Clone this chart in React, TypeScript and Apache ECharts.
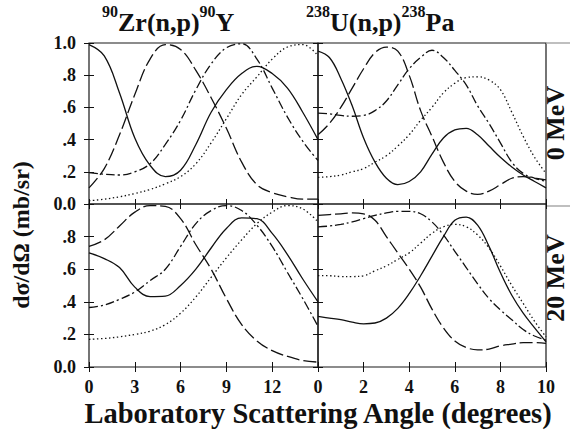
import React, { useEffect, useRef } from "react";
import * as echarts from "echarts";

// Scattering angles (degrees) at which the angular distributions are sampled
const zrAngles = [0, 1, 2, 3, 4, 5, 6, 7, 8, 9, 10, 11, 12, 13, 14, 15];
const uAngles = [0, 0.5, 1, 1.5, 2, 2.5, 3, 3.5, 4, 4.5, 5, 5.5, 6, 6.5, 7, 7.5, 8, 8.5, 9, 9.5, 10];

// 90Zr(n,p)90Y, 0 MeV
const zr0Solid = [0.99, 0.92, 0.69, 0.41, 0.24, 0.17, 0.21, 0.37, 0.57, 0.71, 0.81, 0.855, 0.81, 0.72, 0.57, 0.4];
const zr0LongDash = [0.1, 0.22, 0.43, 0.68, 0.9, 0.99, 0.96, 0.83, 0.66, 0.47, 0.26, 0.12, 0.07, 0.045, 0.03, 0.03];
const zr0DashDot = [0.195, 0.185, 0.18, 0.2, 0.25, 0.37, 0.52, 0.71, 0.87, 0.97, 0.995, 0.9, 0.72, 0.54, 0.39, 0.27];
const zr0Dotted = [0.02, 0.03, 0.045, 0.065, 0.09, 0.125, 0.17, 0.25, 0.38, 0.53, 0.68, 0.79, 0.9, 0.975, 0.99, 0.92];

// 238U(n,p)238Pa, 0 MeV
const u0Solid = [0.95, 0.91, 0.78, 0.61, 0.41, 0.26, 0.16, 0.12, 0.14, 0.2, 0.31, 0.41, 0.46, 0.47, 0.43, 0.36, 0.29, 0.23, 0.18, 0.14, 0.1];
const u0LongDash = [0.43, 0.5, 0.6, 0.72, 0.84, 0.94, 0.975, 0.95, 0.8, 0.58, 0.42, 0.26, 0.14, 0.08, 0.06, 0.08, 0.12, 0.16, 0.17, 0.16, 0.15];
const u0DashDot = [0.565, 0.56, 0.55, 0.545, 0.55, 0.58, 0.64, 0.74, 0.84, 0.91, 0.955, 0.91, 0.83, 0.74, 0.61, 0.5, 0.38, 0.26, 0.19, 0.16, 0.14];
const u0Dotted = [0.165, 0.17, 0.18, 0.2, 0.22, 0.26, 0.3, 0.36, 0.43, 0.52, 0.6, 0.69, 0.75, 0.785, 0.79, 0.77, 0.71, 0.57, 0.42, 0.29, 0.19];

// 90Zr(n,p)90Y, 20 MeV
const zr20Solid = [0.7, 0.665, 0.61, 0.49, 0.432, 0.435, 0.5, 0.6, 0.73, 0.85, 0.915, 0.91, 0.82, 0.69, 0.54, 0.4];
const zr20LongDash = [0.74, 0.78, 0.865, 0.95, 0.99, 0.985, 0.91, 0.75, 0.6, 0.42, 0.26, 0.16, 0.1, 0.065, 0.04, 0.03];
const zr20DashDot = [0.365, 0.38, 0.415, 0.46, 0.53, 0.6, 0.74, 0.88, 0.96, 0.99, 0.96, 0.87, 0.74, 0.58, 0.42, 0.25];
const zr20Dotted = [0.17, 0.175, 0.185, 0.2, 0.22, 0.26, 0.33, 0.43, 0.55, 0.67, 0.78, 0.88, 0.95, 0.99, 0.97, 0.89];

// 238U(n,p)238Pa, 20 MeV
const u20Solid = [0.31, 0.3, 0.29, 0.275, 0.265, 0.27, 0.3, 0.36, 0.45, 0.56, 0.68, 0.8, 0.9, 0.92, 0.87, 0.74, 0.58, 0.44, 0.33, 0.24, 0.155];
const u20LongDash = [0.93, 0.935, 0.94, 0.945, 0.94, 0.9, 0.8, 0.7, 0.6, 0.49, 0.355, 0.24, 0.16, 0.12, 0.105, 0.11, 0.13, 0.14, 0.15, 0.15, 0.145];
const u20DashDot = [0.86, 0.865, 0.875, 0.89, 0.91, 0.93, 0.945, 0.955, 0.955, 0.94, 0.89, 0.81, 0.71, 0.61, 0.51, 0.42, 0.35, 0.29, 0.23, 0.19, 0.165];
const u20Dotted = [0.56, 0.56, 0.555, 0.555, 0.56, 0.59, 0.62, 0.66, 0.7, 0.76, 0.82, 0.86, 0.875, 0.86, 0.81, 0.73, 0.62, 0.5, 0.39, 0.28, 0.185];

const FONT = "Liberation Serif, Times New Roman, serif";
const INK = "#111";

const DASH: Record<string, any> = {
  solid: "solid",
  longDash: [13, 4],
  dashDot: [9, 3, 2, 3],
  dotted: [1.4, 2.6],
};

type Panel = {
  rect: { left: number; top: number; width: number; height: number };
  xMax: number;
  xStep: number;
  xs: number[];
  curves: { name: string; ys: number[]; dash: string }[];
  showX: boolean;
  showY: boolean;
  hideTopY: boolean;
  hideLastX: boolean;
};

const panels: Panel[] = [
  {
    rect: { left: 89, top: 43, width: 229, height: 161 },
    xMax: 15, xStep: 3, xs: zrAngles, showX: false, showY: true, hideTopY: false, hideLastX: true,
    curves: [
      { name: "Zr 0 solid", ys: zr0Solid, dash: "solid" },
      { name: "Zr 0 long dash", ys: zr0LongDash, dash: "longDash" },
      { name: "Zr 0 dash-dot", ys: zr0DashDot, dash: "dashDot" },
      { name: "Zr 0 dotted", ys: zr0Dotted, dash: "dotted" },
    ],
  },
  {
    rect: { left: 318, top: 43, width: 228, height: 161 },
    xMax: 10, xStep: 2, xs: uAngles, showX: false, showY: false, hideTopY: false, hideLastX: false,
    curves: [
      { name: "U 0 solid", ys: u0Solid, dash: "solid" },
      { name: "U 0 long dash", ys: u0LongDash, dash: "longDash" },
      { name: "U 0 dash-dot", ys: u0DashDot, dash: "dashDot" },
      { name: "U 0 dotted", ys: u0Dotted, dash: "dotted" },
    ],
  },
  {
    rect: { left: 89, top: 204, width: 229, height: 163 },
    xMax: 15, xStep: 3, xs: zrAngles, showX: true, showY: true, hideTopY: true, hideLastX: true,
    curves: [
      { name: "Zr 20 solid", ys: zr20Solid, dash: "solid" },
      { name: "Zr 20 long dash", ys: zr20LongDash, dash: "longDash" },
      { name: "Zr 20 dash-dot", ys: zr20DashDot, dash: "dashDot" },
      { name: "Zr 20 dotted", ys: zr20Dotted, dash: "dotted" },
    ],
  },
  {
    rect: { left: 318, top: 204, width: 228, height: 163 },
    xMax: 10, xStep: 2, xs: uAngles, showX: true, showY: false, hideTopY: true, hideLastX: false,
    curves: [
      { name: "U 20 solid", ys: u20Solid, dash: "solid" },
      { name: "U 20 long dash", ys: u20LongDash, dash: "longDash" },
      { name: "U 20 dash-dot", ys: u20DashDot, dash: "dashDot" },
      { name: "U 20 dotted", ys: u20Dotted, dash: "dotted" },
    ],
  },
];

const labelStyle = {
  fontFamily: FONT,
  fontWeight: "bold" as const,
  fontSize: 18,
  color: INK,
};

const yFormatter = (v: number) => {
  if (v === 0) return "0.0";
  if (v >= 0.999) return "1.0";
  return "." + Math.round(v * 10);
};

function buildOption() {
  const grid: any[] = [];
  const xAxis: any[] = [];
  const yAxis: any[] = [];
  const series: any[] = [];

  panels.forEach((p, g) => {
    grid.push({
      ...p.rect,
      show: true,
      borderColor: "#1a1a1a",
      borderWidth: 1.2,
      backgroundColor: "transparent",
      containLabel: false,
    });
    const tick = { show: true, inside: true, length: 5, lineStyle: { color: INK, width: 1 } };
    ["bottom", "top"].forEach((pos) => {
      xAxis.push({
        type: "value",
        gridIndex: g,
        position: pos,
        min: 0,
        max: p.xMax,
        interval: p.xStep,
        axisLine: { show: false },
        axisTick: tick,
        splitLine: { show: false },
        axisLabel: {
          show: pos === "bottom" && p.showX,
          margin: 11,
          showMaxLabel: !p.hideLastX,
          ...labelStyle,
        },
      });
    });
    ["left", "right"].forEach((pos) => {
      yAxis.push({
        type: "value",
        gridIndex: g,
        position: pos,
        min: 0,
        max: 1,
        interval: 0.2,
        axisLine: { show: false },
        axisTick: tick,
        splitLine: { show: false },
        axisLabel: {
          show: pos === "left" && p.showY,
          margin: 13,
          showMaxLabel: !p.hideTopY,
          formatter: yFormatter,
          ...labelStyle,
        },
      });
    });
    p.curves.forEach((c) => {
      series.push({
        type: "line",
        name: c.name,
        xAxisIndex: 2 * g,
        yAxisIndex: 2 * g,
        data: p.xs.map((x, i) => [x, c.ys[i]]),
        symbol: "none",
        showSymbol: false,
        smooth: 0.4,
        clip: true,
        silent: true,
        lineStyle: { color: INK, width: 1.3, type: DASH[c.dash], cap: "butt" },
      });
    });
  });

  const titleRich = {
    sup: { fontFamily: FONT, fontWeight: "bold", fontSize: 16, lineHeight: 18, verticalAlign: "top", fill: INK, color: INK },
    main: { fontFamily: FONT, fontWeight: "bold", fontSize: 26, lineHeight: 32, verticalAlign: "bottom", fill: INK, color: INK },
  };

  const rotatedText = (text: string, x: number, y: number, size: number) => ({
    type: "text",
    x,
    y,
    rotation: Math.PI / 2,
    style: {
      text,
      fontFamily: FONT,
      fontWeight: "bold",
      fontSize: size,
      textAlign: "center",
      textVerticalAlign: "middle",
      fill: INK,
    },
  });

  const graphic: any[] = [
    {
      type: "text",
      x: 102,
      y: 3,
      style: {
        text: "{sup|90}{main|Zr(n,p)}{sup|90}{main|Y}",
        rich: titleRich,
        textAlign: "left",
        textVerticalAlign: "top",
        fill: INK,
      },
    },
    {
      type: "text",
      x: 306,
      y: 3,
      style: {
        text: "{sup|238}{main|U(n,p)}{sup|238}{main|Pa}",
        rich: titleRich,
        textAlign: "left",
        textVerticalAlign: "top",
        fill: INK,
      },
    },
    rotatedText("dσ/dΩ (mb/sr)", 21, 235, 24),
    {
      type: "text",
      x: 318,
      y: 413,
      style: {
        text: "Laboratory Scattering Angle (degrees)",
        fontFamily: FONT,
        fontWeight: "bold",
        fontSize: 28.5,
        textAlign: "center",
        textVerticalAlign: "middle",
        fill: INK,
      },
    },
    rotatedText("0 MeV", 555, 123, 26),
    rotatedText("20 MeV", 555, 278, 26),
    {
      type: "line",
      shape: { x1: 546, y1: 43, x2: 570, y2: 43 },
      style: { stroke: "#aaa", lineWidth: 1.5 },
    },
    {
      type: "line",
      shape: { x1: 546, y1: 206, x2: 570, y2: 206 },
      style: { stroke: "#aaa", lineWidth: 1.5 },
    },
  ];

  return {
    animation: false,
    backgroundColor: "#fff",
    grid,
    xAxis,
    yAxis,
    series,
    graphic,
  };
}

export default function App() {
  const ref = useRef<HTMLDivElement>(null);

  useEffect(() => {
    if (!ref.current) return;
    const chart = echarts.init(ref.current, undefined, { renderer: "svg" });
    chart.setOption(buildOption());
    return () => chart.dispose();
  }, []);

  return (
    <div
      ref={ref}
      style={{ position: "absolute", left: 0, top: 0, width: 570, height: 433 }}
    />
  );
}
